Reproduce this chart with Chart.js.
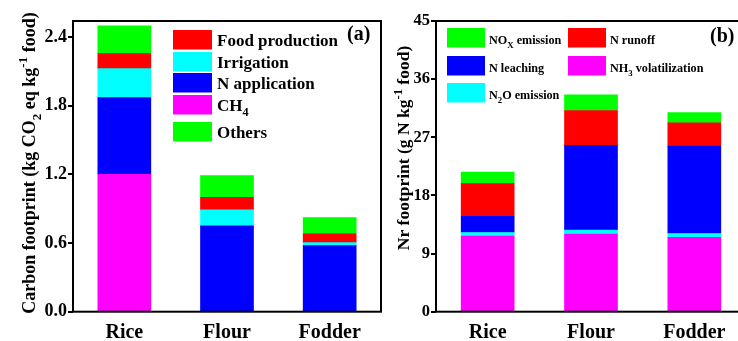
<!DOCTYPE html>
<html>
<head>
<meta charset="utf-8">
<script src="https://cdn.jsdelivr.net/npm/chart.js@4.4.1/dist/chart.umd.min.js"></script>
<style>
html, body { margin: 0; padding: 0; background: #fff; overflow: hidden; width: 738px; height: 341px; }
.box { position: absolute; top: 0; height: 341px; }
</style>
</head>
<body>
<div class="box" style="left:0;width:384px"><canvas id="chartA"></canvas></div>
<div class="box" style="left:384px;width:376px"><canvas id="chartB"></canvas></div>
<script>
const foods = ['Rice', 'Flour', 'Fodder'];

// (a) carbon footprint, kg CO2 eq per kg food
const ch4 = [1.2, 0, 0];
const nApplication = [0.67, 0.75, 0.577];
const irrigation = [0.254, 0.14, 0.027];
const foodProduction = [0.131, 0.11, 0.076];
const others = [0.242, 0.19, 0.142];
const carbonTicks = [0, 0.6, 1.2, 1.8, 2.4];

// (b) Nr footprint, g N per kg food
const nh3 = [11.69, 12.0, 11.53];
const n2o = [0.57, 0.62, 0.57];
const nLeaching = [2.52, 13.12, 13.53];
const nRunoff = [5.05, 5.4, 3.61];
const nox = [1.79, 2.42, 1.59];
const nrTicks = [0, 9, 18, 27, 36, 45];

const GREEN = '#00ff00', RED = '#ff0000', CYAN = '#00ffff', BLUE = '#0000ff', MAGENTA = '#ff00ff';
const FONT = '"Liberation Serif", "Times New Roman", serif';

Chart.defaults.font.family = FONT;
Chart.defaults.font.weight = 'bold';
Chart.defaults.color = '#000';

// "CO_2" -> subscript 2, "kg^{-1}" -> superscript
function parseRich(s) {
    let parts = [];
    let re = /_\{([^}]*)\}|_(.)|\^\{([^}]*)\}|\^(.)/g;
    let last = 0, m;
    while ((m = re.exec(s)) !== null) {
        if (m.index > last) parts.push([s.slice(last, m.index), '']);
        if (m[1] !== undefined || m[2] !== undefined) parts.push([m[1] || m[2], 'sub']);
        else parts.push([m[3] || m[4], 'sup']);
        last = re.lastIndex;
    }
    if (last < s.length) parts.push([s.slice(last), '']);
    return parts;
}

function richWidth(ctx, parts, size) {
    let w = 0;
    for (const [t, k] of parts) {
        ctx.font = 'bold ' + (k ? size * 0.72 : size) + 'px ' + FONT;
        w += ctx.measureText(t).width;
    }
    return w;
}

function drawRich(ctx, parts, x, y, size) {
    let cx = x;
    for (const [t, k] of parts) {
        ctx.font = 'bold ' + (k ? size * 0.72 : size) + 'px ' + FONT;
        let dy = k === 'sub' ? size * 0.32 : (k === 'sup' ? -size * 0.42 : 0);
        ctx.fillText(t, cx, y + dy);
        cx += ctx.measureText(t).width;
    }
}

const decor = {
    id: 'decor',
    afterDraw(chart, args, o) {
        const ctx = chart.ctx, a = chart.chartArea;
        ctx.save();
        ctx.strokeStyle = '#000';
        ctx.lineWidth = 2;
        ctx.strokeRect(a.left, a.top, a.right - a.left, a.bottom - a.top);

        ctx.textBaseline = 'alphabetic';
        ctx.textAlign = 'left';
        o.items.forEach(it => {
            const ds = chart.data.datasets[it.ds];
            ctx.fillStyle = ds.backgroundColor;
            ctx.fillRect(it.x, it.y, o.boxW, o.boxH);
            ctx.fillStyle = '#000';
            drawRich(ctx, parseRich(ds.label), it.x + o.boxW + o.gap, it.y + o.base, o.size);
        });

        // panel letter
        ctx.font = 'bold 20px ' + FONT;
        ctx.textBaseline = 'middle';
        ctx.fillText(o.letter, o.letterX, o.letterY);

        // rotated y title
        ctx.textBaseline = 'alphabetic';
        const parts = parseRich(o.title);
        const w = richWidth(ctx, parts, o.titleSize);
        ctx.translate(o.titleX, o.titleY);
        ctx.rotate(-Math.PI / 2);
        drawRich(ctx, parts, -w / 2, 0, o.titleSize);
        ctx.restore();
    }
};

function makeScales(ticksArr, max, yWidth, tickSize, fmt) {
    return {
        x: {
            stacked: true,
            grid: { display: false, drawTicks: false },
            border: { display: false },
            ticks: { font: { size: 20, weight: 'bold' }, padding: 9 },
            afterFit: s => { s.height = 29.3; }
        },
        y: {
            stacked: true,
            min: 0,
            max: max,
            grid: { drawOnChartArea: false, color: '#000', lineWidth: 2, tickLength: 5 },
            border: { display: false },
            ticks: { font: { size: tickSize, weight: 'bold' }, padding: 1, callback: fmt },
            afterBuildTicks: s => { s.ticks = ticksArr.map(v => ({ value: v })); },
            afterFit: s => { s.width = yWidth; }
        }
    };
}

const configA = {
    type: 'bar',
    data: {
        labels: foods,
        datasets: [
            { label: 'CH_4', data: ch4, backgroundColor: MAGENTA },
            { label: 'N application', data: nApplication, backgroundColor: BLUE },
            { label: 'Irrigation', data: irrigation, backgroundColor: CYAN },
            { label: 'Food production', data: foodProduction, backgroundColor: RED },
            { label: 'Others', data: others, backgroundColor: GREEN }
        ]
    },
    options: {
        responsive: true,
        maintainAspectRatio: false,
        animation: false,
        layout: { padding: { top: 21, right: 3, left: 0, bottom: 0 } },
        datasets: { bar: { barThickness: 53, borderWidth: 0 } },
        scales: makeScales(carbonTicks, 2.54, 73, 18, v => v.toFixed(1)),
        plugins: {
            legend: { display: false },
            tooltip: { enabled: false },
            decor: {
                boxW: 39, boxH: 19.5, gap: 5, base: 16, size: 17,
                items: [
                    { ds: 3, x: 173, y: 30 },
                    { ds: 2, x: 173, y: 52 },
                    { ds: 1, x: 173, y: 73 },
                    { ds: 0, x: 173, y: 95 },
                    { ds: 4, x: 173, y: 122 }
                ],
                letter: '(a)', letterX: 347, letterY: 35,
                title: 'Carbon footprint (kg CO_2 eq kg^{-1} food)', titleSize: 18, titleX: 35, titleY: 163
            }
        }
    },
    plugins: [decor]
};

const configB = {
    type: 'bar',
    data: {
        labels: foods,
        datasets: [
            { label: 'NH_3 volatilization', data: nh3, backgroundColor: MAGENTA },
            { label: 'N_2O emission', data: n2o, backgroundColor: CYAN },
            { label: 'N leaching', data: nLeaching, backgroundColor: BLUE },
            { label: 'N runoff', data: nRunoff, backgroundColor: RED },
            { label: 'NO_X emission', data: nox, backgroundColor: GREEN }
        ]
    },
    options: {
        responsive: true,
        maintainAspectRatio: false,
        animation: false,
        layout: { padding: { top: 21, right: 14, left: 0, bottom: 0 } },
        datasets: { bar: { barThickness: 53, borderWidth: 0 } },
        scales: makeScales(nrTicks, 45, 52, 16.5, v => String(v)),
        plugins: {
            legend: { display: false },
            tooltip: { enabled: false },
            decor: {
                boxW: 38, boxH: 19.5, gap: 4, base: 16, size: 12.2,
                items: [
                    { ds: 4, x: 63, y: 28 },
                    { ds: 3, x: 184, y: 28 },
                    { ds: 2, x: 63, y: 56 },
                    { ds: 0, x: 184, y: 56 },
                    { ds: 1, x: 63, y: 83 }
                ],
                letter: '(b)', letterX: 326, letterY: 37,
                title: 'Nr footprint (g N kg^{-1} food)', titleSize: 17.5, titleX: 25, titleY: 148
            }
        }
    },
    plugins: [decor]
};

const chartA = new Chart(document.getElementById('chartA'), configA);
const chartB = new Chart(document.getElementById('chartB'), configB);
</script>
</body>
</html>
